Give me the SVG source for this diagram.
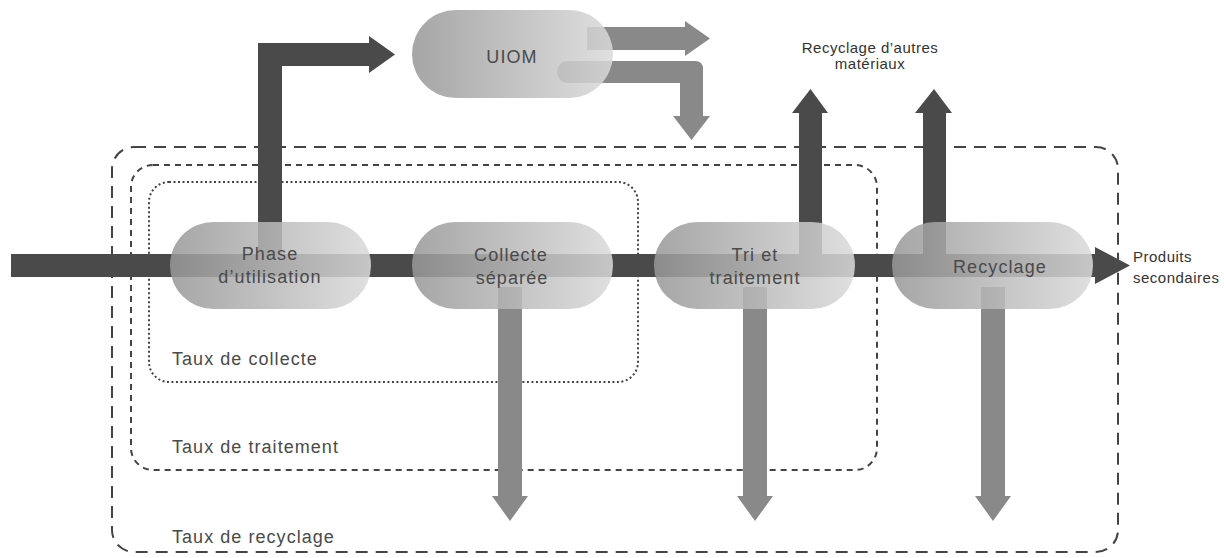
<svg xmlns="http://www.w3.org/2000/svg" width="1224" height="558" viewBox="0 0 1224 558">
<defs>
<linearGradient id="pill" x1="0" y1="0" x2="1" y2="0">
<stop offset="0" stop-color="#979797"/>
<stop offset="1" stop-color="#dadada"/>
</linearGradient>
<style>
.frame{fill:none;stroke:#444;stroke-width:2}
.dark{fill:#4a4a4a}
.mid{fill:#898989}
.pill{fill:url(#pill);fill-opacity:0.86}
.nt{font-family:"Liberation Sans",Arial,sans-serif;font-size:18px;fill:#4a4a4a;text-anchor:middle;letter-spacing:1.1px}
.lab{font-family:"Liberation Sans",Arial,sans-serif;font-size:18px;fill:#4a4a4a;letter-spacing:1.05px}
.small{font-family:"Liberation Sans",Arial,sans-serif;font-size:15px;fill:#333;letter-spacing:0.5px}
</style>
</defs>
<rect width="1224" height="558" fill="#fff"/>
<g id="frames">
<rect class="frame" x="112" y="147" width="1006" height="405" rx="22" stroke-dasharray="12 8"/>
<rect class="frame" x="131" y="165" width="746" height="305" rx="22" stroke-dasharray="6 5"/>
<rect class="frame" x="149" y="182" width="489" height="200" rx="20" stroke-dasharray="2 2.5"/>
<text class="lab" x="172" y="365">Taux de collecte</text>
<text class="lab" x="172" y="453">Taux de traitement</text>
<text class="lab" x="172" y="543">Taux de recyclage</text>
</g>
<g id="connectors">
<polygon class="dark" points="11,254 1095,254 1095,247 1130,265.5 1095,284 1095,277 11,277"/>
<polygon class="dark" points="258,254 258,43 369,43 369,36 395,54.5 369,73 369,66 282,66 282,254"/>
<polygon class="dark" points="799,254 799,113 792,113 810.5,89 828,113 822,113 822,254"/>
<polygon class="dark" points="923,254 923,113 915,113 934,89 952,113 946,113 946,254"/>
<polygon class="mid" points="498,287 522,287 522,496 528,496 510,521 492,496 498,496"/>
<polygon class="mid" points="743,287 767,287 767,496 773,496 755,521 737,496 743,496"/>
<polygon class="mid" points="981,287 1005,287 1005,496 1011,496 993,521 975,496 981,496"/>
<polygon class="mid" points="587,27 685,27 685,21 710,38.5 685,56 685,50 587,50"/>
<path class="mid" d="M568,61 H695 Q703,61 703,69 V116 H710 L691.5,140 L673,116 H680 V83 H568 A11,11 0 0 1 568,61 Z"/>
</g>
<g id="uiom">
<rect class="pill" x="412" y="10" width="201" height="88" rx="44"/>
<text class="nt" x="512" y="63">UIOM</text>
</g>
<g id="phase">
<rect class="pill" x="170" y="222" width="201" height="87" rx="43.5"/>
<text class="nt" x="270" y="260">Phase</text>
<text class="nt" x="270" y="283">d’utilisation</text>
</g>
<g id="collecte">
<rect class="pill" x="412" y="222" width="201" height="87" rx="43.5"/>
<text class="nt" x="511" y="261">Collecte</text>
<text class="nt" x="512" y="284">séparée</text>
</g>
<g id="tri">
<rect class="pill" x="654" y="222" width="201" height="87" rx="43.5"/>
<text class="nt" x="755" y="261">Tri et</text>
<text class="nt" x="755" y="284">traitement</text>
</g>
<g id="recyclage">
<rect class="pill" x="892" y="222" width="201" height="87" rx="43.5"/>
<text class="nt" x="1000" y="273">Recyclage</text>
</g>
<g id="labels">
<text class="small" x="870" y="53" text-anchor="middle">Recyclage d’autres</text>
<text class="small" x="870" y="69" text-anchor="middle">matériaux</text>
<text class="small" x="1133" y="262">Produits</text>
<text class="small" x="1133" y="283">secondaires</text>
</g>
</svg>
